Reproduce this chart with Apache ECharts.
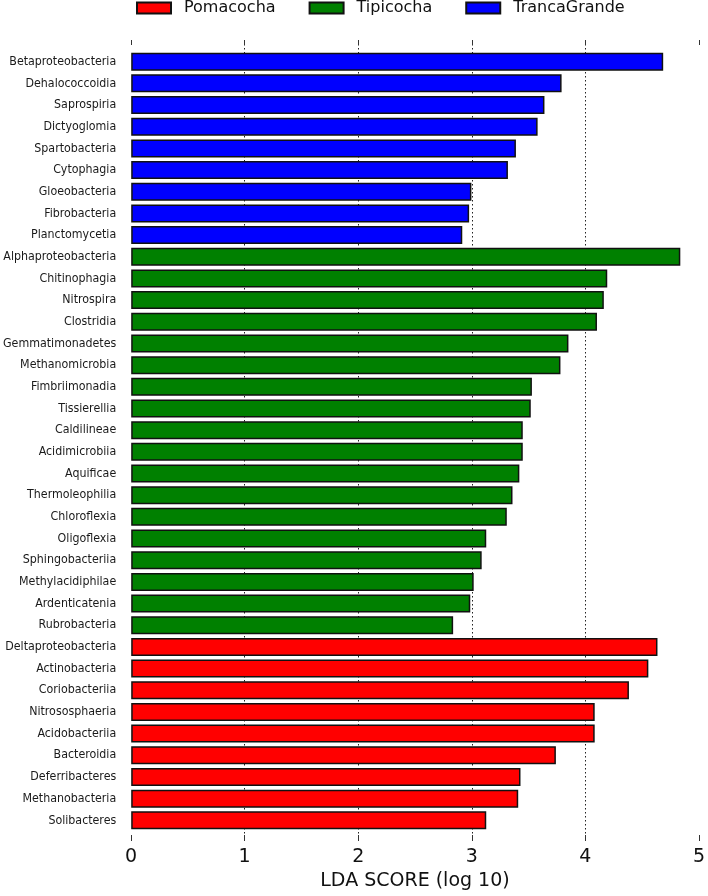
<!DOCTYPE html>
<html>
<head>
<meta charset="utf-8">
<script src="https://cdn.jsdelivr.net/npm/echarts@6/dist/echarts.min.js"></script>
<style>html,body{margin:0;padding:0;background:#fff}#c{width:708px;height:896px}</style>
</head>
<body>
<div id="c"></div>
<script>
const trancaNames = ['Betaproteobacteria','Dehalococcoidia','Saprospiria','Dictyoglomia','Spartobacteria','Cytophagia','Gloeobacteria','Fibrobacteria','Planctomycetia'];
const trancaValues = [4.66, 3.77, 3.62, 3.56, 3.37, 3.30, 2.98, 2.96, 2.90];
const tipiNames = ['Alphaproteobacteria','Chitinophagia','Nitrospira','Clostridia','Gemmatimonadetes','Methanomicrobia','Fimbriimonadia','Tissierellia','Caldilineae','Acidimicrobiia','Aquificae','Thermoleophilia','Chloroflexia','Oligoflexia','Sphingobacteriia','Methylacidiphilae','Ardenticatenia','Rubrobacteria'];
const tipiValues = [4.81, 4.17, 4.14, 4.08, 3.83, 3.76, 3.51, 3.50, 3.43, 3.43, 3.40, 3.34, 3.29, 3.11, 3.07, 3.00, 2.97, 2.82];
const pomaNames = ['Deltaproteobacteria','Actinobacteria','Coriobacteriia','Nitrososphaeria','Acidobacteriia','Bacteroidia','Deferribacteres','Methanobacteria','Solibacteres'];
const pomaValues = [4.61, 4.53, 4.36, 4.06, 4.06, 3.72, 3.41, 3.39, 3.11];
const xTicks = [0, 1, 2, 3, 4, 5];
const groupNames = ['Pomacocha', 'Tipicocha', 'TrancaGrande'];
const groupColors = ['#ff0000', '#008000', '#0000ff'];

const categories = trancaNames.concat(tipiNames, pomaNames);
function column(names, values) {
  return categories.map(c => { const i = names.indexOf(c); return i >= 0 ? values[i] : '-'; });
}
const groupData = [column(pomaNames, pomaValues), column(tipiNames, tipiValues), column(trancaNames, trancaValues)];

const FONT = 'DejaVu Sans';
const NARROW = '"DejaVu Sans Condensed", "Liberation Sans Narrow", "DejaVu Sans"';
const axisTop = 40, axisBottom = 842, leftPx = 131, rightPx = 702;
const step = (axisBottom - axisTop) / (categories.length + 1);
const chart = echarts.init(document.getElementById('c'), null, {renderer: 'canvas'});
chart.setOption({
  animation: false,
  textStyle: {fontFamily: FONT},
  legend: {
    data: groupNames, left: 136, top: -2, padding: 0, itemWidth: 34, itemHeight: 11, itemGap: 33,
    icon: 'rect',
    textStyle: {fontFamily: FONT, fontSize: 16, color: '#111', padding: [0, 0, 0, 8], lineHeight: 20}
  },
  grid: [
    {left: leftPx, right: 708 - rightPx, top: axisTop, height: axisBottom - axisTop},
    {left: leftPx, right: 708 - rightPx, top: axisTop + step / 2, height: step * categories.length}
  ],
  xAxis: [
    {gridIndex: 0, type: 'value', position: 'bottom', min: xTicks[0], max: xTicks[xTicks.length - 1], interval: 1,
     axisLine: {show: false},
     axisTick: {show: true, inside: true, length: 6, lineStyle: {color: '#333', width: 1}},
     axisLabel: {fontFamily: FONT, fontSize: 19, color: '#111', margin: 7},
     splitLine: {show: true, showMinLine: false, showMaxLine: false, lineStyle: {type: [1.5, 2.5], color: '#222', width: 1}},
     name: 'LDA SCORE (log 10)', nameLocation: 'middle', nameGap: 31,
     nameTextStyle: {fontFamily: FONT, fontSize: 19, color: '#111'}},
    {gridIndex: 0, type: 'value', position: 'top', min: xTicks[0], max: xTicks[xTicks.length - 1], interval: 1,
     axisLine: {show: false},
     axisTick: {show: true, inside: true, length: 5, lineStyle: {color: '#333', width: 1}},
     axisLabel: {show: false}, splitLine: {show: false}},
    {gridIndex: 1, type: 'value', show: false, min: xTicks[0], max: xTicks[xTicks.length - 1]}
  ],
  yAxis: [
    {gridIndex: 0, type: 'value', show: false, min: 0, max: 1},
    {gridIndex: 1, type: 'category', data: categories, inverse: true,
     axisLine: {show: false}, axisTick: {show: false}, splitLine: {show: false},
     axisLabel: {fontFamily: NARROW, fontSize: 12.3, color: '#1a1a1a', margin: 15, interval: 0}}
  ],
  series: groupNames.map((n, k) => ({
    name: n, type: 'bar', xAxisIndex: 2, yAxisIndex: 1, stack: 'all',
    data: groupData[k], barWidth: 18,
    itemStyle: {color: groupColors[k], borderColor: '#111', borderWidth: 1.5}
  }))
});
</script>
</body>
</html>
